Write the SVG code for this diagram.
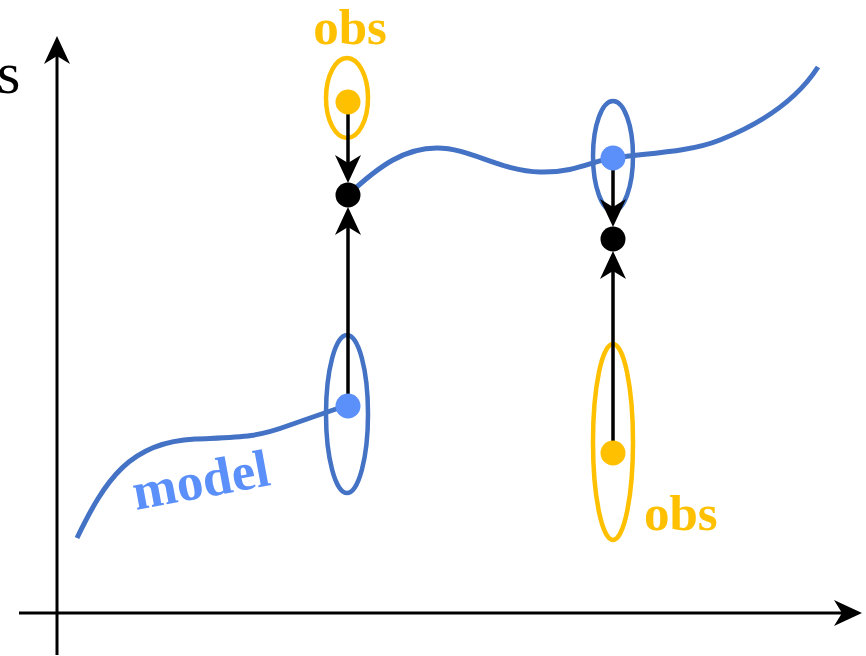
<svg xmlns="http://www.w3.org/2000/svg" width="866" height="656" viewBox="0 0 866 656">
<style>
.ax{stroke:#000;stroke-width:3;fill:none}
.con{stroke:#000;stroke-width:3.5;fill:none}
.curve{stroke:#4472C4;stroke-width:5;fill:none;stroke-linecap:butt}
.eo{stroke:#FFC000;stroke-width:4.5;fill:none}
.eb{stroke:#4472C4;stroke-width:4.5;fill:none}
.dobs{fill:#FFC000}
.dmod{fill:#5B8FF9}
.dblk{fill:#000}
.lbl{font-family:'Liberation Serif',serif;font-weight:700}
</style>
<defs>
<marker id="ah" viewBox="0 -14 30 28" refX="8" refY="0" markerWidth="30" markerHeight="28" markerUnits="userSpaceOnUse" orient="auto">
<path d="M28,0 L0,-13 L8,0 L0,13 Z" fill="#000"/>
</marker>
</defs>
<g id="axes">
<line class="ax" x1="57" y1="655" x2="57" y2="56" marker-end="url(#ah)"/>
<line class="ax" x1="19" y1="613" x2="842" y2="613" marker-end="url(#ah)"/>
<text x="-3" y="93" font-family="Liberation Serif, serif" font-size="60">s</text>
</g>
<g id="model-curve">
<path class="curve" d="M77,538 C105,480 130,442 195,439 C240,437 255,438 290,425 C310,418 330,411 348,405"/>
<path class="curve" d="M348,195 C380,165 405,148 437,148 C470,148 500,171 540,172 C575,173 595,160 613,158 C650,153 690,152 720,140 C770,120 800,95 818,67"/>
<text class="lbl" x="136" y="510" font-size="53" fill="#5B8FF9" transform="rotate(-10.5 136 510)">model</text>
</g>
<g id="obs1">
<ellipse class="eo" cx="347" cy="98" rx="21" ry="40"/>
<text class="lbl" x="350" y="44" font-size="51" fill="#FFC000" text-anchor="middle">obs</text>
</g>
<g id="model1">
<ellipse class="eb" cx="347" cy="414" rx="21" ry="79"/>
</g>
<g id="model2">
<ellipse class="eb" cx="613" cy="156" rx="20" ry="55"/>
</g>
<g id="obs2">
<ellipse class="eo" cx="613" cy="442" rx="20" ry="98"/>
<text class="lbl" x="644" y="530" font-size="51" fill="#FFC000">obs</text>
</g>
<g id="connectors">
<line class="con" x1="348" y1="102" x2="348" y2="163" marker-end="url(#ah)"/>
<line class="con" x1="348" y1="406" x2="348" y2="227" marker-end="url(#ah)"/>
<line class="con" x1="613" y1="158" x2="613" y2="207" marker-end="url(#ah)"/>
<line class="con" x1="613" y1="453" x2="613" y2="271" marker-end="url(#ah)"/>
</g>
<g id="dots">
<circle class="dobs" cx="348" cy="102" r="12.5"/>
<circle class="dblk" cx="348" cy="195" r="12.5"/>
<circle class="dmod" cx="348" cy="406" r="12.5"/>
<circle class="dmod" cx="613" cy="158" r="12.5"/>
<circle class="dblk" cx="613" cy="239" r="12.5"/>
<circle class="dobs" cx="613" cy="453" r="12.5"/>
</g>
</svg>
